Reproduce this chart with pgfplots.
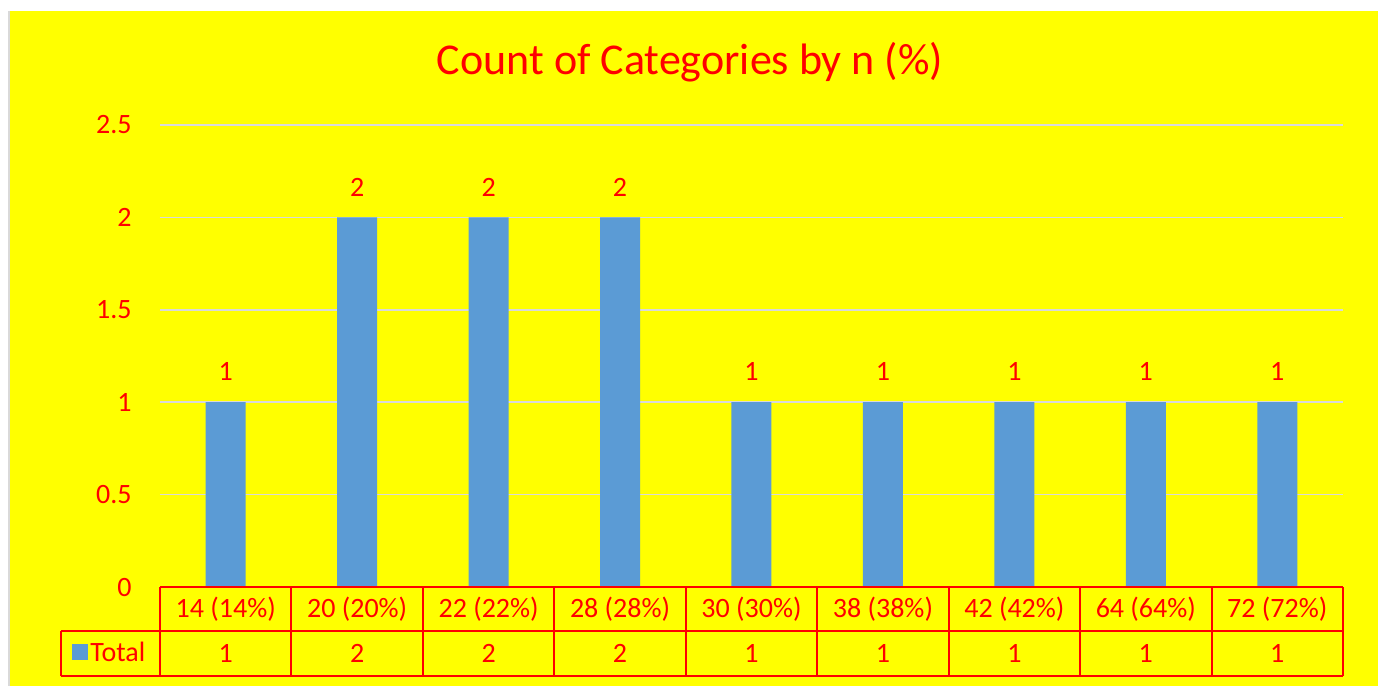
\documentclass[border=0pt]{standalone}
\usepackage{fontspec}
\setmainfont{Carlito}
\usepackage{pgfplots}
\pgfplotsset{compat=1.18}
\definecolor{bg}{HTML}{FFFF00}
\definecolor{barblue}{HTML}{5B9BD5}
\definecolor{txtred}{HTML}{FF0000}
\definecolor{gridgray}{HTML}{D9D9D9}
\newcommand{\lblfont}{\fontsize{14}{16}\selectfont}
\begin{document}
\begin{tikzpicture}[x=0.5pt,y=-0.5pt]
\fill[white] (0,0) rectangle (1378,686);
\fill[bg] (9,11) rectangle (1378,686);
\draw[gridgray, line width=1pt] (8.5,11) -- (8.5,686);
\node[text=txtred, font=\fontsize{22}{26}\selectfont] at (690,62) {Count of Categories by n (\%)};
\begin{axis}[
  at={(80pt,-293.5pt)}, anchor=south west,
  scale only axis, width=591.5pt, height=231pt,
  xmin=-0.5, xmax=8.5, ymin=0, ymax=2.5,
  ytick={0,0.5,1,1.5,2,2.5},
  yticklabels={0,0.5,1,1.5,2,2.5},
  xtick={0,1,2,3,4,5,6,7,8},
  xticklabels={14 (14\%),20 (20\%),22 (22\%),28 (28\%),30 (30\%),38 (38\%),42 (42\%),64 (64\%),72 (72\%)},
  ymajorgrids, grid style={gridgray, line width=0.75pt},
  axis line style={draw=none}, tick style={draw=none},
  major tick length=0pt,
  clip=false,
  tick label style={font=\lblfont, text=txtred, inner sep=0pt},
  yticklabel style={anchor=east, xshift=-14pt},
  xticklabel style={anchor=center, yshift=-11pt},
  /pgf/number format/assume math mode=true,
]
\addplot[ybar, bar width=20pt, fill=barblue, draw=none,
  nodes near coords,
  every node near coord/.append style={font=\lblfont, text=txtred, anchor=south, inner sep=0pt, yshift=10.5pt}]
  coordinates {(0,1) (1,2) (2,2) (3,2) (4,1) (5,1) (6,1) (7,1) (8,1)};
\addplot[draw=none, mark=none, point meta=explicit symbolic,
  nodes near coords,
  every node near coord/.append style={font=\lblfont, text=txtred, anchor=center, inner sep=0pt, yshift=-33pt}]
  coordinates {(0,0)[1] (1,0)[2] (2,0)[2] (3,0)[2] (4,0)[1] (5,0)[1] (6,0)[1] (7,0)[1] (8,0)[1]};
\end{axis}
\begin{scope}[txtred, line width=1pt]
\draw (160,587) -- (1343,587);
\draw (61,631) -- (1343,631);
\draw (61,676) -- (1343,676);
\draw (61,631) -- (61,676);
\foreach \k in {0,...,9} {\draw ({160+\k*131.444},587) -- ({160+\k*131.444},676);}
\end{scope}
\fill[barblue] (72,644) rectangle (88,660);
\node[anchor=west, text=txtred, font=\lblfont, inner sep=0pt] at (90,652) {Total};
\end{tikzpicture}
\end{document}
